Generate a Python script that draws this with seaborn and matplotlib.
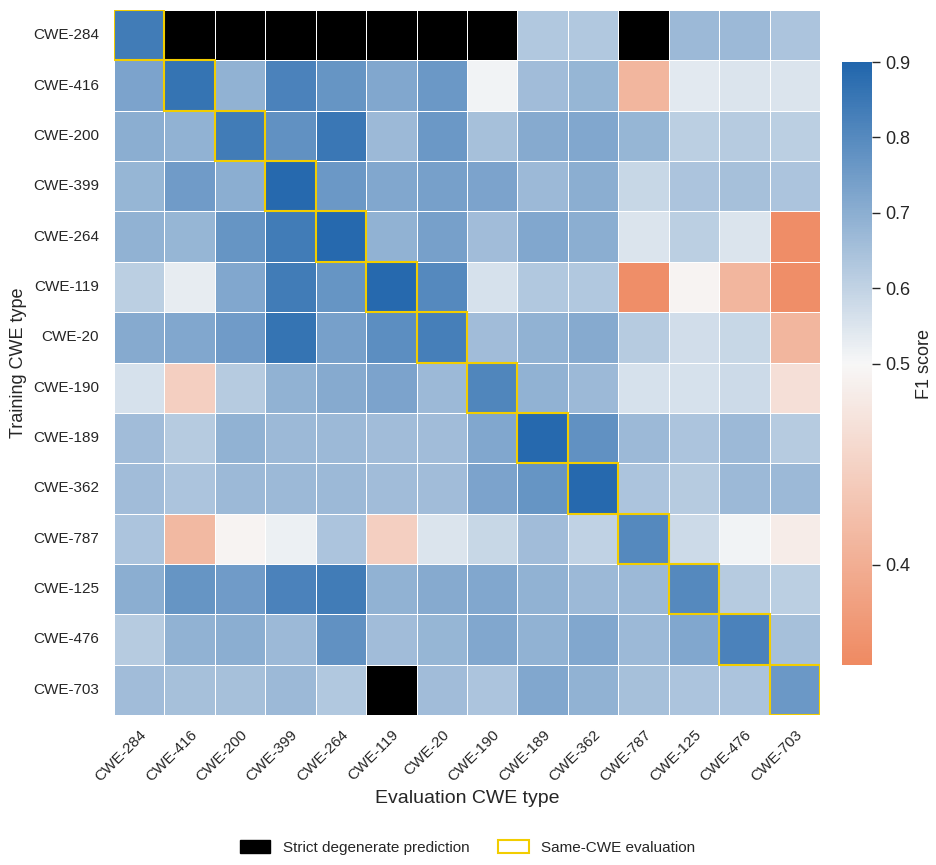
import numpy as np
import pandas as pd
import matplotlib
matplotlib.use("Agg")
import matplotlib.pyplot as plt
import seaborn as sns
from matplotlib.colors import LinearSegmentedColormap, ListedColormap, TwoSlopeNorm
from matplotlib.patches import Patch, Rectangle

# ---------------- data ----------------
train_types = ["CWE-284", "CWE-416", "CWE-200", "CWE-399", "CWE-264", "CWE-119", "CWE-20",
               "CWE-190", "CWE-189", "CWE-362", "CWE-787", "CWE-125", "CWE-476", "CWE-703"]
eval_types = list(train_types)

N = np.nan  # strict degenerate prediction
row_284 = [0.84, N, N, N, N, N, N, N, 0.63, 0.63, N, 0.67, 0.67, 0.64]
row_416 = [0.73, 0.86, 0.69, 0.82, 0.77, 0.72, 0.76, 0.51, 0.66, 0.68, 0.41, 0.54, 0.55, 0.55]
row_200 = [0.70, 0.69, 0.84, 0.78, 0.85, 0.67, 0.76, 0.65, 0.71, 0.72, 0.68, 0.61, 0.62, 0.61]
row_399 = [0.68, 0.75, 0.70, 0.89, 0.76, 0.72, 0.74, 0.73, 0.67, 0.70, 0.59, 0.64, 0.65, 0.64]
row_264 = [0.69, 0.68, 0.77, 0.84, 0.89, 0.69, 0.74, 0.66, 0.72, 0.70, 0.55, 0.61, 0.55, 0.355]
row_119 = [0.61, 0.53, 0.72, 0.84, 0.77, 0.89, 0.80, 0.56, 0.63, 0.63, 0.356, 0.495, 0.41, 0.356]
row_20  = [0.71, 0.72, 0.75, 0.86, 0.74, 0.79, 0.83, 0.66, 0.69, 0.71, 0.62, 0.57, 0.59, 0.41]
row_190 = [0.56, 0.445, 0.62, 0.69, 0.71, 0.73, 0.67, 0.81, 0.69, 0.67, 0.56, 0.56, 0.58, 0.468]
row_189 = [0.66, 0.62, 0.69, 0.67, 0.67, 0.66, 0.66, 0.72, 0.89, 0.78, 0.67, 0.64, 0.67, 0.62]
row_362 = [0.66, 0.64, 0.67, 0.67, 0.67, 0.66, 0.66, 0.73, 0.77, 0.89, 0.64, 0.62, 0.67, 0.67]
row_787 = [0.64, 0.415, 0.495, 0.52, 0.64, 0.445, 0.55, 0.59, 0.66, 0.60, 0.80, 0.58, 0.51, 0.485]
row_125 = [0.70, 0.77, 0.75, 0.82, 0.84, 0.69, 0.71, 0.72, 0.69, 0.67, 0.67, 0.80, 0.62, 0.61]
row_476 = [0.62, 0.69, 0.70, 0.67, 0.78, 0.66, 0.68, 0.72, 0.69, 0.72, 0.67, 0.72, 0.82, 0.65]
row_703 = [0.66, 0.65, 0.65, 0.67, 0.63, N, 0.66, 0.64, 0.72, 0.69, 0.65, 0.64, 0.64, 0.76]

rows = [row_284, row_416, row_200, row_399, row_264, row_119, row_20,
        row_190, row_189, row_362, row_787, row_125, row_476, row_703]

f1 = pd.DataFrame(rows, index=train_types, columns=eval_types)
degenerate = f1.isna()

# ---------------- style ----------------
sns.set_theme(style="white")
plt.rcParams["font.family"] = ["Liberation Sans", "DejaVu Sans"]

cmap = LinearSegmentedColormap.from_list("f1div", ["#ef8a62", "#f7f7f7", "#2166ac"])
norm = TwoSlopeNorm(vmin=0.35, vcenter=0.5, vmax=0.9)

fig = plt.figure(figsize=(9.37, 8.65), dpi=100)
ax = fig.add_axes([0.1217, 0.1734, 0.7535, 0.815])
cax = fig.add_axes([0.8986, 0.2312, 0.032, 0.697])

sns.heatmap(f1, ax=ax, cmap=cmap, norm=norm, linewidths=0.5, linecolor="white",
            cbar=True, cbar_ax=cax, cbar_kws={"ticks": [0.4, 0.5, 0.6, 0.7, 0.8, 0.9]},
            square=False)

black = pd.DataFrame(np.ones(f1.shape), index=train_types, columns=eval_types)
sns.heatmap(black, ax=ax, mask=~degenerate, cmap=ListedColormap(["black"]),
            linewidths=0.5, linecolor="white", cbar=False)

for i, name in enumerate(train_types):
    j = eval_types.index(name)
    ax.add_patch(Rectangle((j, i), 1, 1, fill=False, edgecolor="#f2cd00", lw=1.5, zorder=5))

ax.set_xlabel("Evaluation CWE type", fontsize=14)
ax.set_ylabel("Training CWE type", fontsize=13)
ax.set_xticklabels(eval_types, rotation=45, ha="right", rotation_mode="anchor", fontsize=11)
ax.set_yticklabels(train_types, rotation=0, fontsize=11)
ax.tick_params(axis="y", length=0, pad=11)
ax.tick_params(axis="x", length=0, pad=9)

cbar = ax.collections[0].colorbar
cbar.ax.tick_params(labelsize=13, length=6, width=1, color="#262626")
cbar.set_label("F1 score", fontsize=13)
cbar.outline.set_visible(False)

handles = [Patch(facecolor="black", edgecolor="black", label="Strict degenerate prediction"),
           Patch(facecolor="none", edgecolor="#f2cd00", lw=1.5, label="Same-CWE evaluation")]
fig.legend(handles=handles, loc="center", bbox_to_anchor=(0.499, 0.02), ncol=2,
           frameon=False, fontsize=11, columnspacing=1.9, handleheight=0.9)

fig.savefig("out.png", dpi=100)
